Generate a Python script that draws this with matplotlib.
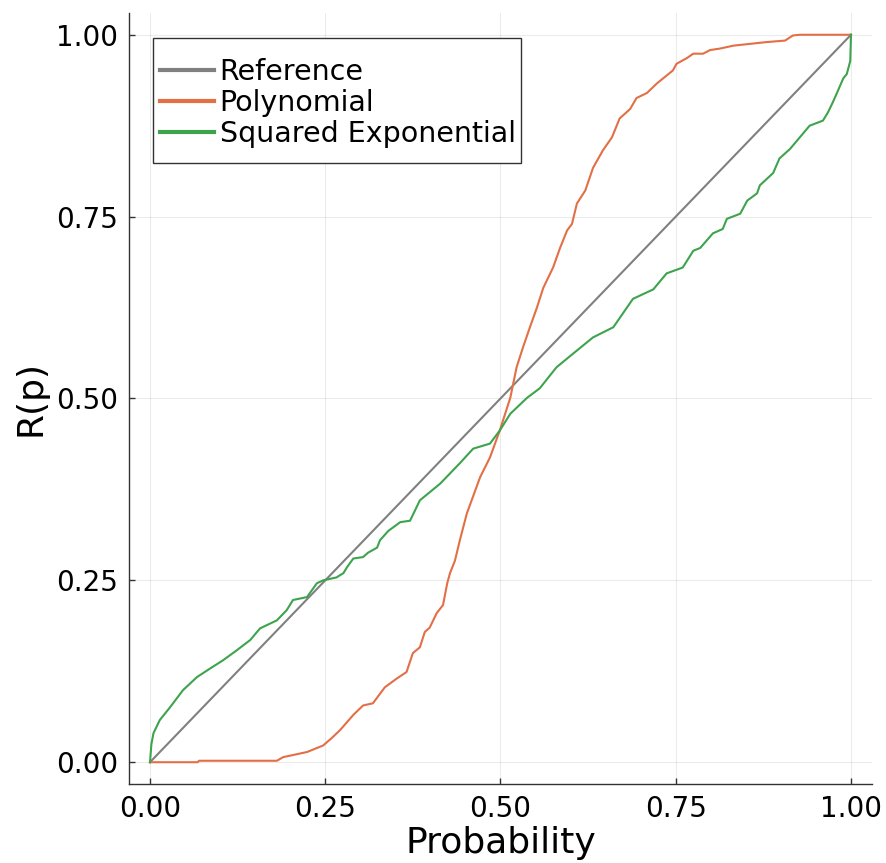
import matplotlib
matplotlib.use("Agg")
import matplotlib.pyplot as plt
from matplotlib.patches import Rectangle

# calibration curves
ref_x = [0.0, 1.0]
ref_y = [0.0, 1.0]

poly_x = [0.0, 0.068, 0.070, 0.181, 0.190, 0.224, 0.247, 0.259, 0.271, 0.290,
          0.304, 0.318, 0.335, 0.352, 0.366, 0.375, 0.385, 0.392, 0.399, 0.409,
          0.418, 0.424, 0.428, 0.435, 0.442, 0.452, 0.471, 0.485, 0.499, 0.514,
          0.523, 0.532, 0.542, 0.552, 0.561, 0.575, 0.585, 0.595, 0.602, 0.609,
          0.621, 0.632, 0.646, 0.659, 0.670, 0.685, 0.694, 0.709, 0.723, 0.746,
          0.751, 0.766, 0.775, 0.789, 0.799, 0.813, 0.832, 0.880, 0.906, 0.917,
          0.927, 1.0]
poly_y = [0.0, 0.0, 0.002, 0.002, 0.007, 0.014, 0.023, 0.033, 0.044, 0.065,
          0.078, 0.081, 0.103, 0.115, 0.124, 0.150, 0.158, 0.179, 0.185, 0.205,
          0.216, 0.246, 0.260, 0.277, 0.305, 0.342, 0.392, 0.419, 0.456, 0.501,
          0.543, 0.570, 0.598, 0.625, 0.652, 0.680, 0.707, 0.731, 0.740, 0.768,
          0.786, 0.817, 0.841, 0.859, 0.885, 0.898, 0.913, 0.920, 0.933, 0.951,
          0.960, 0.968, 0.974, 0.974, 0.979, 0.981, 0.985, 0.990, 0.992, 0.999,
          1.0, 1.0]

sqexp_x = [0.0, 0.002, 0.005, 0.014, 0.029, 0.047, 0.067, 0.086, 0.104, 0.124,
           0.143, 0.157, 0.181, 0.195, 0.204, 0.224, 0.238, 0.247, 0.266, 0.276,
           0.281, 0.290, 0.304, 0.311, 0.324, 0.328, 0.340, 0.357, 0.371, 0.385,
           0.414, 0.442, 0.461, 0.485, 0.499, 0.514, 0.538, 0.556, 0.580, 0.604,
           0.632, 0.661, 0.689, 0.718, 0.737, 0.760, 0.775, 0.785, 0.803, 0.817,
           0.823, 0.842, 0.852, 0.866, 0.870, 0.889, 0.898, 0.913, 0.927, 0.941,
           0.960, 0.967, 0.974, 0.980, 0.989, 0.994, 0.999, 1.0]
sqexp_y = [0.0, 0.025, 0.040, 0.058, 0.076, 0.099, 0.117, 0.129, 0.140, 0.154,
           0.168, 0.184, 0.195, 0.209, 0.223, 0.227, 0.246, 0.250, 0.254, 0.260,
           0.268, 0.280, 0.282, 0.288, 0.295, 0.305, 0.318, 0.330, 0.332, 0.360,
           0.383, 0.411, 0.431, 0.438, 0.456, 0.479, 0.501, 0.514, 0.543, 0.562,
           0.584, 0.598, 0.637, 0.650, 0.672, 0.680, 0.703, 0.707, 0.727, 0.733,
           0.747, 0.754, 0.772, 0.782, 0.793, 0.810, 0.830, 0.843, 0.859, 0.875,
           0.882, 0.893, 0.907, 0.920, 0.940, 0.946, 0.964, 1.0]

labels = ["Reference", "Polynomial", "Squared Exponential"]
colors = ["#808080", "#e26f46", "#3da44d"]

fig = plt.figure(figsize=(8.87, 8.63), dpi=100)
ax = fig.add_axes([0.1454, 0.0915, 0.8377, 0.8935])

ax.plot(ref_x, ref_y, color=colors[0], lw=1.5, label=labels[0])
ax.plot(poly_x, poly_y, color=colors[1], lw=1.5, label=labels[1])
ax.plot(sqexp_x, sqexp_y, color=colors[2], lw=1.5, label=labels[2])

ax.set_xlim(-0.03, 1.03)
ax.set_ylim(-0.03, 1.03)
ticks = [0.0, 0.25, 0.5, 0.75, 1.0]
ax.set_xticks(ticks)
ax.set_yticks(ticks)
ax.set_xticklabels(["%.2f" % t for t in ticks])
ax.set_yticklabels(["%.2f" % t for t in ticks])
ax.tick_params(direction="in", length=4, width=1, labelsize=20, colors="#333333",
               labelcolor="black", pad=8)
ax.grid(True, color="black", alpha=0.08, lw=0.8)

for s in ["top", "right"]:
    ax.spines[s].set_visible(False)
for s in ["left", "bottom"]:
    ax.spines[s].set_color("#333333")
    ax.spines[s].set_linewidth(1)

ax.set_xlabel("Probability", fontsize=26, labelpad=2)
ax.set_ylabel("R(p)", fontsize=26, labelpad=6)

# legend box drawn by hand: wide vertical padding, narrow side padding
box = Rectangle((0.0323, 0.8054), 0.4953, 0.1622, transform=ax.transAxes,
                facecolor="white", edgecolor="#333333", lw=1, zorder=4.5)
ax.add_patch(box)
leg = ax.legend(loc="upper left", bbox_to_anchor=(0.0417, 0.9412), fontsize=20.5,
                frameon=False, handlelength=1.9, handletextpad=0.2,
                labelspacing=0.1, borderpad=0, borderaxespad=0)
for line in leg.get_lines():
    line.set_linewidth(3)

plt.savefig("out.png", dpi=100)
